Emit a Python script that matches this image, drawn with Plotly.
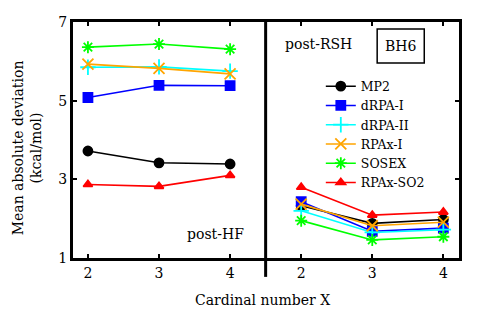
import plotly.graph_objects as go

# Data
cardinal_labels = ["2", "3", "4", "2", "3", "4"]
positions = [0, 1, 2, 3, 4, 5]
methods = ["MP2", "dRPA-I", "dRPA-II", "RPAx-I", "SOSEX", "RPAx-SO2"]
post_hf = {
    "MP2": [3.72, 3.42, 3.39],
    "dRPA-I": [5.08, 5.39, 5.38],
    "dRPA-II": [5.85, 5.86, 5.75],
    "RPAx-I": [5.93, 5.82, 5.68],
    "SOSEX": [6.36, 6.44, 6.31],
    "RPAx-SO2": [2.87, 2.82, 3.10],
}
post_rsh = {
    "MP2": [2.33, 1.88, 1.98],
    "dRPA-I": [2.43, 1.68, 1.76],
    "dRPA-II": [2.20, 1.65, 1.72],
    "RPAx-I": [2.37, 1.82, 1.91],
    "SOSEX": [1.95, 1.46, 1.54],
    "RPAx-SO2": [2.80, 2.09, 2.17],
}

colors = {"MP2": "#000000", "dRPA-I": "#0000ff", "dRPA-II": "#00ffff",
          "RPAx-I": "#ffa500", "SOSEX": "#00ff00", "RPAx-SO2": "#ff0000"}
symbols = {"MP2": "circle", "dRPA-I": "square", "dRPA-II": "cross-thin-open",
           "RPAx-I": "x-thin-open", "SOSEX": "asterisk-open", "RPAx-SO2": "triangle-up"}
sizes = {"MP2": 9, "dRPA-I": 9, "dRPA-II": 11, "RPAx-I": 11, "SOSEX": 10, "RPAx-SO2": 8}

FONT = "DejaVu Serif"
FS = 14

fig = go.Figure()
for m in methods:
    xs = positions[:3] + [None] + positions[3:]
    ys = post_hf[m] + [None] + post_rsh[m]
    fig.add_trace(go.Scatter(
        x=xs, y=ys, name=m, mode="lines+markers", connectgaps=False,
        line=dict(color=colors[m], width=1.6),
        marker=dict(symbol=symbols[m], size=sizes[m], color=colors[m],
                    line=dict(color=colors[m], width=1.8)),
    ))

fig.update_layout(
    width=490, height=314,
    margin=dict(l=65, r=39, t=14, b=64, autoexpand=False),
    paper_bgcolor="white", plot_bgcolor="white",
    font=dict(family=FONT, size=FS, color="black"),
    showlegend=True,
    legend=dict(x=0.642, y=0.79, xanchor="left", yanchor="top",
                bgcolor="rgba(0,0,0,0)", font=dict(size=12.5), tracegroupgap=0,
                itemwidth=30),
    xaxis=dict(range=[-0.21, 5.22], tickvals=positions, ticktext=cardinal_labels,
               showgrid=False, zeroline=False, showline=True, linewidth=3,
               linecolor="black", mirror="ticks", ticks="inside", ticklen=4,
               tickwidth=2, tickcolor="black", automargin=False),
    yaxis=dict(range=[1, 7], tickvals=[1, 3, 5, 7], showgrid=False, zeroline=False,
               showline=True, linewidth=3, linecolor="black", mirror="ticks",
               ticks="inside", ticklen=4, tickwidth=2, tickcolor="black",
               automargin=False),
)

# Divider between panels
fig.add_shape(type="line", xref="x", yref="paper", x0=2.5, x1=2.5, y0=-0.08, y1=1,
              line=dict(color="black", width=3))
# BH6 box
fig.add_shape(type="rect", xref="paper", yref="paper", x0=0.788, x1=0.910,
              y0=0.826, y1=0.970, line=dict(color="black", width=1.5))

fig.add_annotation(text="BH6", xref="paper", yref="paper", x=0.849, y=0.898,
                   xanchor="center", yanchor="middle", showarrow=False)
fig.add_annotation(text="post-RSH", xref="paper", yref="paper", x=0.635, y=0.907,
                   xanchor="center", yanchor="middle", showarrow=False)
fig.add_annotation(text="post-HF", xref="paper", yref="paper", x=0.370, y=0.102,
                   xanchor="center", yanchor="middle", showarrow=False)
fig.add_annotation(text="Mean absolute deviation<br>(kcal/mol)", xref="paper",
                   yref="paper", x=-0.119, y=0.465, textangle=-90, showarrow=False,
                   xanchor="center", yanchor="middle")
fig.add_annotation(text="Cardinal number X", xref="paper", yref="paper",
                   x=0.49, y=-0.18, xanchor="center", yanchor="middle",
                   showarrow=False)

fig.write_html("out.html")
